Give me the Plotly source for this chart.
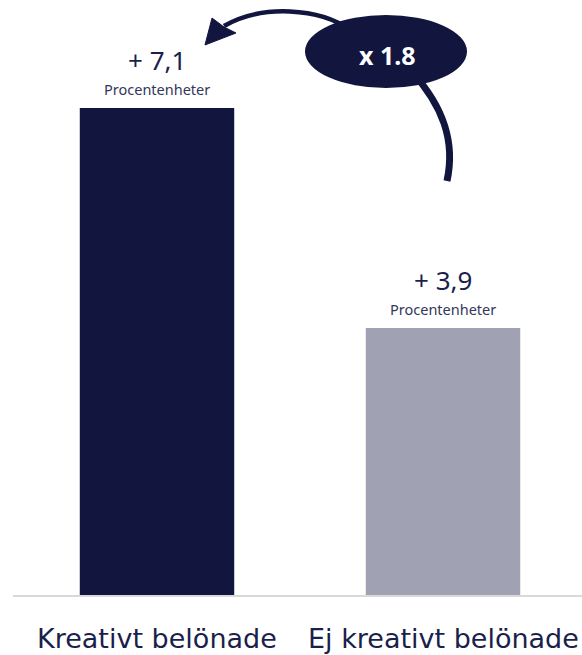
import plotly.graph_objects as go

# Data
categories = ["Kreativt belönade", "Ej kreativt belönade"]
values = [7.1, 3.9]
value_labels = ["+ 7,1", "+ 3,9"]
unit_label = "Procentenheter"
multiplier_label = "x 1.8"

NAVY = "#12163f"
GREY = "#a0a1b3"
TEXT = "#1b1f4b"
W, H = 582, 655
FONT = "Noto Sans"


def px(x, y):
    """Pixel position -> paper coordinates string for SVG paths."""
    return f"{x / W:.4f},{1 - y / H:.4f}"


fig = go.Figure()
fig.add_trace(go.Bar(
    x=[0, 1], y=values, width=0.54,
    marker=dict(color=[NAVY, GREY], line=dict(width=0)),
    hoverinfo="skip",
))

annotations = []
for i, (v, lab, cat) in enumerate(zip(values, value_labels, categories)):
    annotations.append(dict(x=i, y=v, text=lab, showarrow=False, yshift=48,
                            yanchor="middle", xanchor="center",
                            font=dict(family=FONT, size=26, color=TEXT)))
    annotations.append(dict(x=i, y=v, text=unit_label, showarrow=False, yshift=19,
                            yanchor="middle", xanchor="center",
                            font=dict(family=FONT, size=14.5, color="#33375c")))
    annotations.append(dict(x=i, y=0, text=cat, showarrow=False, yshift=-42,
                            yanchor="middle", xanchor="center",
                            font=dict(family="DejaVu Sans", size=27, color=TEXT)))

annotations.append(dict(xref="paper", yref="paper", x=387 / W, y=1 - 55 / H,
                        xanchor="center", yanchor="middle",
                        text=f"<b>{multiplier_label}</b>", showarrow=False,
                        font=dict(family=FONT, size=25, color="white")))

shapes = [
    # baseline
    dict(type="line", xref="paper", yref="y", x0=13 / W, x1=1, y0=0, y1=0,
         line=dict(color="#d9d9d9", width=2)),
    # lower arm of the curved arrow
    dict(type="path", xref="paper", yref="paper",
         path=f"M {px(447, 181)} C {px(456, 140)} {px(442, 105)} {px(412, 72)}",
         line=dict(color=NAVY, width=7)),
    # upper arm
    dict(type="path", xref="paper", yref="paper",
         path=f"M {px(350, 30)} C {px(320, 8)} {px(262, 4)} {px(224, 26)}",
         line=dict(color=NAVY, width=4.5)),
    # arrow head
    dict(type="path", xref="paper", yref="paper",
         path=f"M {px(205, 45)} L {px(212, 18)} L {px(224, 27)} L {px(236, 33)} Z",
         fillcolor=NAVY, line=dict(color=NAVY, width=1)),
    # ellipse with the multiplier
    dict(type="circle", xref="paper", yref="paper",
         x0=305 / W, x1=467 / W, y0=1 - 88 / H, y1=1 - 15 / H,
         fillcolor=NAVY, line=dict(color=NAVY, width=0)),
]

spx = 286.0  # pixels per category
spy = (596 - 108) / 7.1  # pixels per unit
fig.update_layout(
    width=W, height=H,
    margin=dict(l=0, r=0, t=0, b=0),
    paper_bgcolor="white", plot_bgcolor="white",
    showlegend=False,
    xaxis=dict(range=[-157 / spx, -157 / spx + W / spx], visible=False, fixedrange=True),
    yaxis=dict(range=[-(H - 596) / spy, 596 / spy], visible=False, fixedrange=True),
    annotations=annotations,
    shapes=shapes,
)

fig.write_html("out.html")
